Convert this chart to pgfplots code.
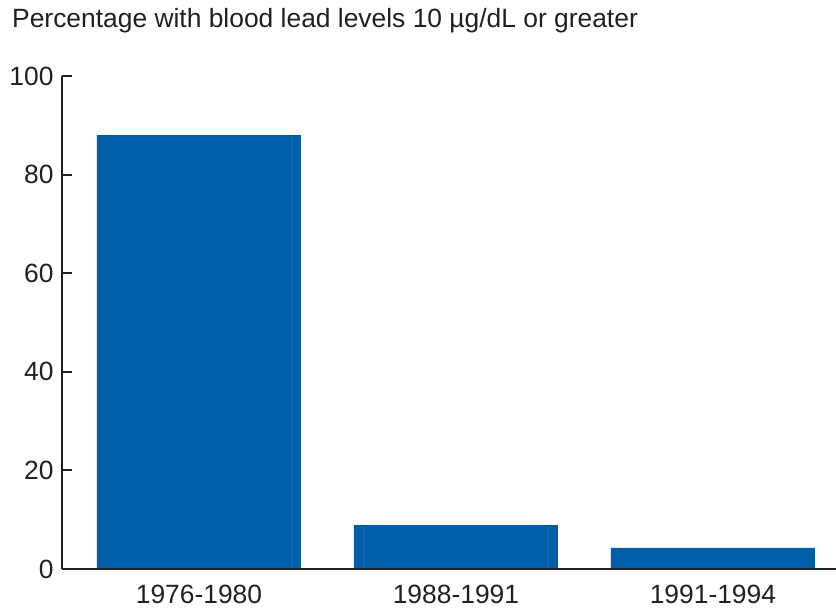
\documentclass[border=0pt]{standalone}
\usepackage{pgfplots}
\pgfplotsset{compat=1.18}
\usepackage{fontspec}
\setmainfont{Liberation Sans}
\definecolor{barblue}{RGB}{0,94,168}
\definecolor{axisgray}{RGB}{35,31,32}
\begin{document}
\begin{tikzpicture}[font=\fontsize{26.4bp}{30bp}\selectfont]
\path[use as bounding box] (0,0) rectangle (836bp,608bp);
\node[anchor=base west, inner sep=0pt, text=axisgray] at (12bp,580bp) {Percentage with blood lead levels 10 µg/dL or greater};
\begin{axis}[
  at={(62bp,39bp)}, anchor=south west, scale only axis,
  width=774bp, height=493bp,
  xmin=-0.533, xmax=2.479, ymin=0, ymax=100,
  axis lines=left,
  axis line style={-, line width=2bp, color=axisgray},
  ytick={0,20,40,60,80,100},
  xtick={0,1,2},
  xticklabels={1976-1980,1988-1991,1991-1994},
  tick align=inside,
  major tick length=10bp,
  y tick style={line width=2bp, color=axisgray},
  x tick style={draw=none},
  yticklabel style={anchor=east, text=axisgray, xshift=-5bp},
  xticklabel style={text=axisgray, anchor=base, yshift=-25bp},
  /pgf/number format/assume math mode=true,
  ybar, bar width=204bp,
  axis on top,
]
\addplot[fill=barblue, draw=none] coordinates {(0,88.0) (1,8.9) (2,4.3)};
\end{axis}
\end{tikzpicture}
\end{document}
